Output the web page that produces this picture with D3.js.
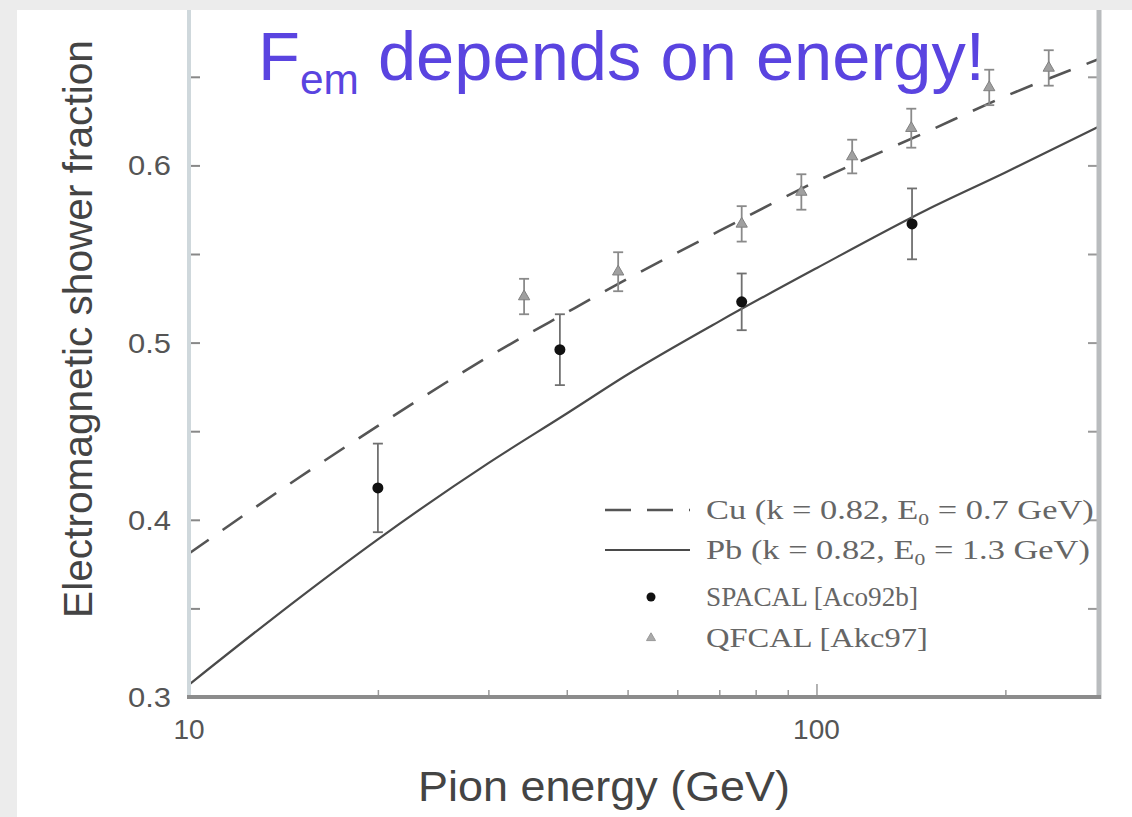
<!DOCTYPE html>
<html><head><meta charset="utf-8">
<script src="https://cdn.jsdelivr.net/npm/d3@7/dist/d3.min.js"></script>
<style>html,body{margin:0;padding:0;background:#ececec;}svg{display:block;}</style>
</head><body>
<svg id="c" width="1132" height="817"></svg>
<script>
// ---- data ----
const curveEnergies = [10, 15, 20, 30, 40, 50, 70, 100, 150, 200, 282];
const cuValues = [0.381, 0.424, 0.453, 0.492, 0.517, 0.536, 0.563, 0.591, 0.619, 0.639, 0.660];
const pbValues = [0.307, 0.356, 0.389, 0.432, 0.460, 0.482, 0.512, 0.542, 0.575, 0.596, 0.622];

const spacalEnergy = [20, 39, 76, 142];
const spacalValue  = [0.418, 0.496, 0.523, 0.567];
const spacalError  = [0.025, 0.020, 0.016, 0.020];

const qfcalEnergy = [34.2, 48.3, 76, 94.6, 114, 141.6, 188.5, 234.5];
const qfcalValue  = [0.526, 0.540, 0.567, 0.585, 0.605, 0.621, 0.644, 0.655];
const qfcalError  = [0.010, 0.011, 0.010, 0.010, 0.0095, 0.011, 0.010, 0.010];

const xMajorTicks = [10, 100];
const xMinorTicks = [20, 30, 40, 50, 60, 70, 80, 90, 200];
const yMajorTicks = [0.3, 0.4, 0.5, 0.6];
const yMinorTicks = [0.35, 0.45, 0.55, 0.65];

const titleMain = "F";
const titleSub = "em";
const titleRest = " depends on energy!";
const xTitle = "Pion energy (GeV)";
const yTitle = "Electromagnetic shower fraction";
const legendItems = [
  {type: "dash", pre: "Cu  (k = 0.82, E", sub: "0", post: " = 0.7 GeV)"},
  {type: "solid", pre: "Pb  (k = 0.82, E", sub: "0", post: " = 1.3 GeV)"},
  {type: "dot", pre: "SPACAL [Aco92b]", sub: "", post: ""},
  {type: "tri", pre: "QFCAL [Akc97]", sub: "", post: ""}
];

// ---- layout ----
const svg = d3.select("#c");
const L = 189, R = 1099, T = 10, B = 697;
const x = d3.scaleLog().domain([10, 282]).range([L, R]);
const y = d3.scaleLinear().domain([0.3, 0.6877]).range([B, T]);

svg.append("rect").attr("x", 17).attr("y", 10).attr("width", 1115).attr("height", 807).attr("fill", "#fff");

function fitWidth(g, target) {
  const bb = g.node().getBBox();
  return target / bb.width;
}

// title
const tg = svg.append("g");
const tt = tg.append("text").attr("x", 0).attr("y", 0)
  .attr("font-family", "Liberation Sans, Arial, sans-serif").attr("font-size", 68).attr("fill", "#5a44e0");
tt.append("tspan").text(titleMain);
tt.append("tspan").attr("font-size", 42).attr("dy", 14).text(titleSub);
tt.append("tspan").attr("dy", -14).text(titleRest);
{
  const s = fitWidth(tt, 727);
  tg.attr("transform", `translate(258,80) scale(${s},1)`);
}

// plot curves
const line = d3.line().x(d => x(d[0])).y(d => y(d[1])).curve(d3.curveMonotoneX);
svg.append("path").datum(curveEnergies.map((e, i) => [e, cuValues[i]]))
  .attr("d", line).attr("fill", "none").attr("stroke", "#555").attr("stroke-width", 2.6)
  .attr("stroke-dasharray", "24,17");
svg.append("path").datum(curveEnergies.map((e, i) => [e, pbValues[i]]))
  .attr("d", line).attr("fill", "none").attr("stroke", "#4a4a4a").attr("stroke-width", 2.2);

// error bars
function errBars(E, V, Er, col) {
  const g = svg.append("g").attr("stroke", col).attr("stroke-width", 1.8);
  E.forEach((e, i) => {
    const cx = x(e);
    g.append("line").attr("x1", cx).attr("x2", cx).attr("y1", y(V[i] - Er[i])).attr("y2", y(V[i] + Er[i]));
    [V[i] - Er[i], V[i] + Er[i]].forEach(v =>
      g.append("line").attr("x1", cx - 5).attr("x2", cx + 5).attr("y1", y(v)).attr("y2", y(v)));
  });
}
errBars(qfcalEnergy, qfcalValue, qfcalError, "#8a8a8a");
errBars(spacalEnergy, spacalValue, spacalError, "#707070");

svg.append("g").selectAll("path").data(qfcalEnergy.map((e, i) => [e, qfcalValue[i]])).join("path")
  .attr("d", d3.symbol(d3.symbolTriangle, 55))
  .attr("transform", d => `translate(${x(d[0])},${y(d[1])})`)
  .attr("fill", "#a0a0a0").attr("stroke", "#808080").attr("stroke-width", 1);
svg.append("g").selectAll("circle").data(spacalEnergy.map((e, i) => [e, spacalValue[i]])).join("circle")
  .attr("cx", d => x(d[0])).attr("cy", d => y(d[1])).attr("r", 5.5).attr("fill", "#111");

// axes
const axL = d3.axisRight(y).tickValues(yMinorTicks.concat(yMajorTicks)).tickSize(11).tickFormat("");
svg.append("g").attr("transform", `translate(${L},0)`).call(axL)
  .call(g => g.select(".domain").remove())
  .call(g => g.selectAll(".tick line").attr("stroke", "#888").attr("stroke-width", 2));
const axR = d3.axisLeft(y).tickValues(yMinorTicks.concat(yMajorTicks)).tickSize(11).tickFormat("");
svg.append("g").attr("transform", `translate(${R},0)`).call(axR)
  .call(g => g.select(".domain").remove())
  .call(g => g.selectAll(".tick line").attr("stroke", "#999").attr("stroke-width", 2));
const axBmin = d3.axisTop(x).tickValues(xMinorTicks).tickSize(7).tickFormat("");
svg.append("g").attr("transform", `translate(0,${B})`).call(axBmin)
  .call(g => g.select(".domain").remove())
  .call(g => g.selectAll(".tick line").attr("stroke", "#999").attr("stroke-width", 1.5));
const axBmaj = d3.axisTop(x).tickValues(xMajorTicks).tickSize(13).tickFormat("");
svg.append("g").attr("transform", `translate(0,${B})`).call(axBmaj)
  .call(g => g.select(".domain").remove())
  .call(g => g.selectAll(".tick line").attr("stroke", "#999").attr("stroke-width", 1.5));

svg.append("line").attr("x1", L).attr("x2", L).attr("y1", T).attr("y2", B + 2).attr("stroke", "#cfd8dc").attr("stroke-width", 4);
svg.append("line").attr("x1", R).attr("x2", R).attr("y1", T).attr("y2", B + 2).attr("stroke", "#b9bcbe").attr("stroke-width", 5);
svg.append("line").attr("x1", L - 2).attr("x2", R + 2).attr("y1", B).attr("y2", B).attr("stroke", "#8c8c8c").attr("stroke-width", 4);

// tick labels
svg.append("g").selectAll("text").data(yMajorTicks).join("text")
  .attr("x", 171).attr("y", d => y(d) + 10).attr("text-anchor", "end")
  .attr("font-family", "Liberation Sans, Arial, sans-serif").attr("font-size", 28).attr("fill", "#555")
  .attr("textLength", 43).attr("lengthAdjust", "spacingAndGlyphs")
  .text(d => d3.format(".1f")(d));
svg.append("g").selectAll("text").data(xMajorTicks).join("text")
  .attr("x", d => x(d)).attr("y", 739).attr("text-anchor", "middle")
  .attr("font-family", "Liberation Sans, Arial, sans-serif").attr("font-size", 28).attr("fill", "#555")
  .text(d => d);

// axis titles
{
  const g = svg.append("g");
  const t = g.append("text").attr("text-anchor", "middle").attr("font-family", "Liberation Sans, Arial, sans-serif")
    .attr("font-size", 42).attr("fill", "#444").text(xTitle);
  const s = fitWidth(t, 372);
  g.attr("transform", `translate(604,801) scale(${s},1)`);
}
{
  const g = svg.append("g");
  const t = g.append("text").attr("text-anchor", "middle").attr("font-family", "Liberation Sans, Arial, sans-serif")
    .attr("font-size", 40).attr("fill", "#444").text(yTitle);
  const s = fitWidth(t, 578);
  g.attr("transform", `translate(92,329) rotate(-90) scale(${s},1)`);
}

// legend
const rowsY = [510, 550, 597, 638];
const rowWidths = [388, 384, 212, 222];
legendItems.forEach((it, i) => {
  const ry = rowsY[i];
  if (it.type === "dash") {
    svg.append("line").attr("x1", 605).attr("x2", 690).attr("y1", ry).attr("y2", ry)
      .attr("stroke", "#555").attr("stroke-width", 2.6).attr("stroke-dasharray", "26,16");
  } else if (it.type === "solid") {
    svg.append("line").attr("x1", 605).attr("x2", 690).attr("y1", ry).attr("y2", ry)
      .attr("stroke", "#4a4a4a").attr("stroke-width", 2.2);
  } else if (it.type === "dot") {
    svg.append("circle").attr("cx", 651).attr("cy", ry).attr("r", 4.5).attr("fill", "#111");
  } else {
    svg.append("path").attr("d", d3.symbol(d3.symbolTriangle, 35)).attr("transform", `translate(651,${ry})`)
      .attr("fill", "#aaa").attr("stroke", "#999");
  }
  const g = svg.append("g");
  const t = g.append("text").attr("x", 0).attr("y", 0)
    .attr("font-family", "Liberation Serif, Times New Roman, serif").attr("font-size", 27).attr("fill", "#666");
  t.append("tspan").text(it.pre);
  if (it.sub) {
    t.append("tspan").attr("font-size", 17).attr("dy", 6).text(it.sub);
    t.append("tspan").attr("dy", -6).text(it.post);
  }
  const s = fitWidth(t, rowWidths[i]);
  g.attr("transform", `translate(706,${ry + 9}) scale(${s},1)`);
});
</script>
</body></html>
